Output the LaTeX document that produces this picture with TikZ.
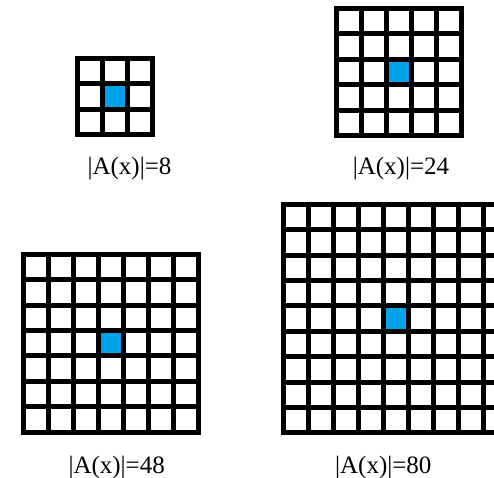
\documentclass[tikz,border=0pt]{standalone}
\usepackage{fontspec}
\setmainfont{Liberation Serif}
\definecolor{cellblue}{RGB}{0,162,232}
\tikzset{
  gridline/.style={line width=5pt, draw=black},
  lbl/.style={anchor=base, font=\fontsize{25}{30}\selectfont, inner sep=0pt}
}
\newcommand\drawgrid[3]{%
  \pgfmathsetmacro\cc{(#1-1)/2}%
  \fill[cellblue] ({#2+25*\cc},{#3+25.4*\cc}) rectangle ++(25,25.4);
  \foreach \i in {1,...,#1} {
    \draw[gridline] ({#2+25*\i},{#3}) -- ({#2+25*\i},{#3+25.4*#1});
    \draw[gridline] ({#2},{#3+25.4*\i}) -- ({#2+25*#1},{#3+25.4*\i});
  }
  \draw[gridline] ({#2},{#3}) rectangle ({#2+25*#1},{#3+25.4*#1});
}
\begin{document}
\begin{tikzpicture}[x=1pt,y=-1pt]
\useasboundingbox (0,0) rectangle (494,477);
\clip (0,0) rectangle (494,477);
\drawgrid{3}{77.5}{58.5}
\drawgrid{5}{336.5}{8.5}
\drawgrid{7}{23.5}{254.2}
\drawgrid{9}{283.5}{204.2}
\node[lbl] (l8) at (129.5,174.5) {|A(x)|=8};
\node[lbl] (l24) at (401,174) {|A(x)|=24};
\node[lbl] (l48) at (116.7,473) {|A(x)|=48};
\node[lbl] (l80) at (383.3,473) {|A(x)|=80};
\end{tikzpicture}
\end{document}
